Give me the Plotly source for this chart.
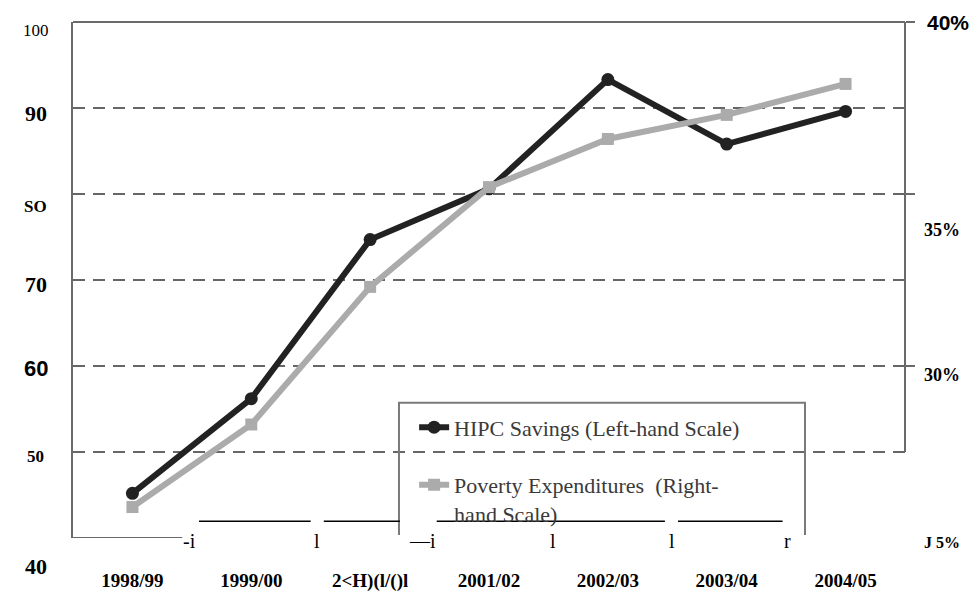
import plotly.graph_objects as go

# ---------------- data ----------------
years = ["1998/99", "1999/00", "2000/01", "2001/02", "2002/03", "2003/04", "2004/05"]
year_labels = ["1998/99", "1999/00", "2<H)(l/()l", "2001/02", "2002/03", "2003/04", "2004/05"]
hipc_savings = [45.2, 56.2, 74.7, 80.6, 93.3, 85.8, 89.6]        # left-hand scale
poverty_exp = [25.9, 28.3, 32.3, 35.2, 36.6, 37.3, 38.2]          # right-hand scale (%)

left_tick_vals = [100, 90, 80, 70, 60, 50, 40]
left_tick_text = ["100", "90", "SO", "70", "60", "50", "40"]
right_tick_vals = [40, 35, 30, 25]
right_tick_text = ["40%", "35%", "30%", "J 5%"]

# stray scan glyphs along the bottom (category positions)
stray_text = ["-i", "l", "\u2014i", "l", "l", "r"]
stray_pos = [0.55, 1.55, 2.57, 3.54, 4.54, 5.51]
# stray scan rule segments (category positions)
stray_seg_start = [0.56, 1.61, 2.56, 4.59]
stray_seg_end = [1.50, 2.25, 4.48, 5.47]

SERIF = "Liberation Serif, Times New Roman, serif"
SANS = "Liberation Sans, Arial, sans-serif"
AXC = "#6a6a6a"

fig = go.Figure()
fig.add_trace(go.Scatter(
    x=years, y=hipc_savings, name="HIPC Savings (Left-hand Scale)",
    mode="lines+markers", line=dict(color="#222222", width=6),
    marker=dict(symbol="circle", size=13, color="#222222"),
    legendgroup="a", yaxis="y"))
fig.add_trace(go.Scatter(
    x=years, y=poverty_exp, name="Poverty Expenditures  (Right-<br>hand Scale)",
    mode="lines+markers", line=dict(color="#ababab", width=6),
    marker=dict(symbol="square", size=12, color="#ababab"),
    legendgroup="b", yaxis="y2"))

# left labels styling (font family, size, weight, yshift)
left_style = {
    "100": (SERIF, 17, "normal", -8),
    "90": (SERIF, 22, "bold", -5),
    "SO": (SERIF, 17, "bold", -12),
    "70": (SERIF, 22, "bold", -4),
    "60": (SANS, 22, "bold", -2),
    "50": (SERIF, 17, "bold", -4),
    "40": (SERIF, 22, "bold", -28),
}
annotations = []
for v, t in zip(left_tick_vals, left_tick_text):
    fam, size, w, ys = left_style[t]
    annotations.append(dict(x=-0.045, xref="paper", y=v, yref="y", text=t,
                            showarrow=False, xanchor="center", yanchor="middle",
                            yshift=ys, font=dict(family=fam, size=size, weight=w, color="#000")))
right_style = {
    "40%": (SANS, 21, "bold", 0, 1.0517),
    "35%": (SERIF, 18, "bold", -36, 1.045),
    "30%": (SERIF, 18, "bold", -9, 1.045),
    "J 5%": (SERIF, 16, "bold", -4, 1.045),
}
for v, t in zip(right_tick_vals, right_tick_text):
    fam, size, w, ys, xp = right_style[t]
    annotations.append(dict(x=xp, xref="paper", y=v, yref="y2", text=t,
                            showarrow=False, xanchor="center", yanchor="middle",
                            yshift=ys, font=dict(family=fam, size=size, weight=w, color="#000")))
for t, p in zip(stray_text, stray_pos):
    annotations.append(dict(x=p, xref="x", y=40, yref="y", text=t, showarrow=False,
                            xanchor="right" if t.endswith("i") else "center",
                            yanchor="middle", yshift=-3,
                            font=dict(family=SERIF, size=20, color="#000")))

shapes = [
    # top border
    dict(type="line", xref="paper", yref="paper", x0=0, x1=1, y0=1, y1=1,
         line=dict(color=AXC, width=2)),
    # right axis line (partial)
    dict(type="line", xref="paper", yref="y2", x0=1, x1=1, y0=27.5, y1=40,
         line=dict(color=AXC, width=2)),
    # bottom axis stub
    dict(type="line", xref="x", yref="y", x0=-0.5, x1=0.42, y0=40, y1=40,
         line=dict(color=AXC, width=2)),
    # legend box fill
    dict(type="rect", xref="paper", yref="paper", x0=0.3918, x1=0.8798, y0=0.006, y1=0.262,
         fillcolor="white", line=dict(width=0), layer="between"),
    # legend box border (open bottom)
    dict(type="path", xref="paper", yref="paper",
         path="M 0.3918,0.006 L 0.3918,0.262 L 0.8798,0.262 L 0.8798,0.006",
         line=dict(color="#7a7a7a", width=2), layer="above"),
]
for a, b in zip(stray_seg_start, stray_seg_end):
    shapes.append(dict(type="line", xref="x", yref="y", x0=a, x1=b, y0=41.95, y1=41.95,
                       line=dict(color="#000", width=1.6), layer="above"))

fig.update_layout(
    width=974, height=604,
    margin=dict(l=73, r=69, t=22, b=59),
    paper_bgcolor="white", plot_bgcolor="white",
    showlegend=True,
    legend=dict(x=0.41, y=0.255, xanchor="left", yanchor="top",
                bgcolor="rgba(0,0,0,0)", borderwidth=0,
                font=dict(family=SERIF, size=22, color="#3a3a3a"),
                tracegroupgap=26, valign="top", itemwidth=30),
    xaxis=dict(type="category", categoryorder="array", categoryarray=years,
               range=[-0.5, 6.5], tickmode="array", tickvals=years, ticktext=year_labels,
               showgrid=False, showline=False, zeroline=False, ticks="",
               ticklabelstandoff=29,
               tickfont=dict(family=SERIF, size=19, weight="bold", color="#000")),
    yaxis=dict(range=[40, 100], tickmode="array", tickvals=[50, 60, 70, 80, 90],
               showticklabels=False, ticks="", showgrid=True, gridcolor="#666666",
               gridwidth=2, griddash="12px,8px", zeroline=False,
               showline=True, linecolor=AXC, linewidth=2),
    yaxis2=dict(range=[25, 40], overlaying="y", side="right", showgrid=False,
                zeroline=False, showline=False, showticklabels=False,
                tickmode="array", tickvals=[30, 35, 40], ticks="outside",
                ticklen=9, tickwidth=2, tickcolor=AXC),
    yaxis3=dict(range=[25, 40], overlaying="y", side="right", anchor="x", showgrid=False,
                zeroline=False, showline=False, showticklabels=False,
                tickmode="array", tickvals=[27.5, 30, 32.5, 35, 37.5], ticks="inside",
                ticklen=12, tickwidth=2, tickcolor=AXC),
    annotations=annotations,
    shapes=shapes,
)

fig.write_html("out.html", config={"displayModeBar": False},
               post_script="document.body.style.margin='0';document.body.style.padding='0';")
